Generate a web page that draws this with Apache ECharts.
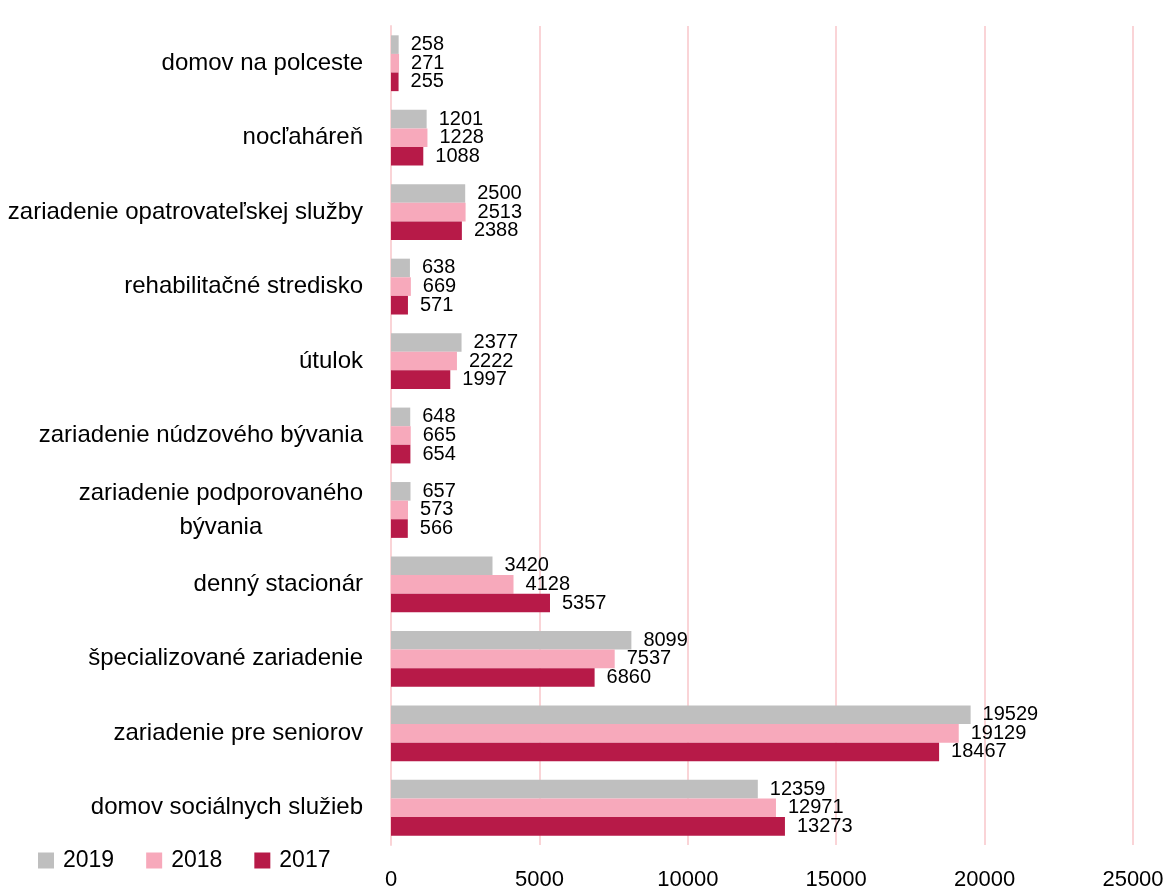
<!DOCTYPE html>
<html>
<head>
<meta charset="utf-8">
<script src="https://cdn.jsdelivr.net/npm/echarts@6/dist/echarts.min.js"></script>
<style>
  html, body { margin: 0; padding: 0; background: #fff; }
  #chart { width: 1170px; height: 892px; }
</style>
</head>
<body>
<div id="chart"></div>
<script>
// Facility types, listed bottom to top along the category axis
const categories = [
  'domov sociálnych služieb',
  'zariadenie pre seniorov',
  'špecializované zariadenie',
  'denný stacionár',
  'zariadenie podporovaného\nbývania',
  'zariadenie núdzového bývania',
  'útulok',
  'rehabilitačné stredisko',
  'zariadenie opatrovateľskej služby',
  'nocľaháreň',
  'domov na polceste'
];
const values2019 = [12359, 19529, 8099, 3420, 657, 648, 2377, 638, 2500, 1201, 258];
const values2018 = [12971, 19129, 7537, 4128, 573, 665, 2222, 669, 2513, 1228, 271];
const values2017 = [13273, 18467, 6860, 5357, 566, 654, 1997, 571, 2388, 1088, 255];
const xTicks = [0, 5000, 10000, 15000, 20000, 25000];

const FONT = '"Liberation Sans", Arial, sans-serif';
const COLORS = { '2019': '#BFBFBF', '2018': '#F7A9BB', '2017': '#B71A48' };

function makeSeries(name, data) {
  return {
    name: name,
    type: 'bar',
    data: data,
    barGap: '0%',
    barCategoryGap: '25%',
    itemStyle: { color: COLORS[name] },
    label: {
      show: true,
      position: 'right',
      distance: 12,
      color: '#000',
      fontFamily: FONT,
      fontSize: 20
    }
  };
}

const chart = echarts.init(document.getElementById('chart'), null, { renderer: 'canvas' });
chart.setOption({
  animation: false,
  backgroundColor: '#fff',
  textStyle: { fontFamily: FONT },
  grid: {
    left: 391, right: 37, top: 26, bottom: 47,
    containLabel: false,
    outerBoundsMode: 'none'
  },
  legend: {
    data: ['2019', '2018', '2017'],
    left: 33,
    top: 844,
    itemWidth: 16,
    itemHeight: 16,
    itemGap: 32,
    icon: 'rect',
    textStyle: { fontFamily: FONT, fontSize: 23, color: '#000', padding: [0, 0, 0, 4] }
  },
  xAxis: {
    type: 'value',
    min: xTicks[0],
    max: xTicks[xTicks.length - 1],
    interval: xTicks[1] - xTicks[0],
    axisLine: { show: false },
    axisTick: { show: false },
    axisLabel: {
      color: '#000', fontFamily: FONT, fontSize: 22, margin: 24,
      formatter: function (v) { return String(v); }
    },
    splitLine: { show: true, lineStyle: { color: '#FAD4D7', width: 2 } }
  },
  yAxis: {
    type: 'category',
    data: categories,
    axisLine: { show: true, lineStyle: { color: '#FAD4D7', width: 2 } },
    axisTick: { show: false },
    axisLabel: {
      color: '#000',
      fontFamily: FONT,
      fontSize: 24,
      margin: 28,
      lineHeight: 34,
      formatter: function (v) { return '{c|' + v.split('\n').join('}\n{c|') + '}'; },
      rich: { c: { align: 'center', fontFamily: FONT, fontSize: 24, lineHeight: 34, color: '#000' } }
    }
  },
  series: [
    makeSeries('2019', values2019),
    makeSeries('2018', values2018),
    makeSeries('2017', values2017)
  ]
});
</script>
</body>
</html>
